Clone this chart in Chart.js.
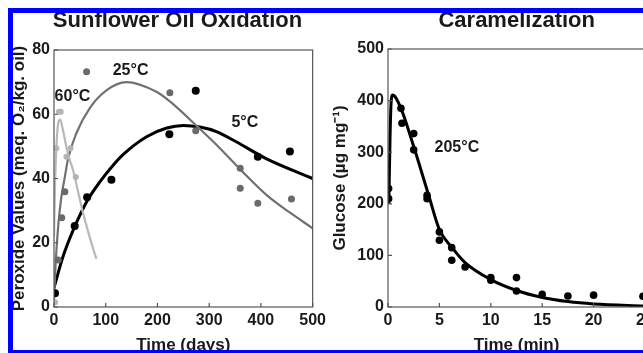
<!DOCTYPE html>
<html>
<head>
<meta charset="utf-8">
<script src="https://cdn.jsdelivr.net/npm/chart.js@4.4.0/dist/chart.umd.min.js"></script>
<style>
  html, body { margin: 0; padding: 0; background: #fff; overflow: hidden; width: 643px; height: 353px; }
  .panel { position: absolute; top: 0; width: 330px; height: 360px; }
  #left-panel { left: 0; }
  #right-panel { left: 330px; }
  .bar { position: absolute; background: #0000ff; }
</style>
</head>
<body>
<div class="panel" id="left-panel"><canvas id="oilChart"></canvas></div>
<div class="panel" id="right-panel"><canvas id="caramelChart"></canvas></div>
<div class="bar" style="left:8px; top:8px; width:5px; height:345px;"></div>
<div class="bar" style="left:8px; top:8px; width:635px; height:5px;"></div>
<div class="bar" style="left:8px; top:350px; width:635px; height:3px;"></div>
<script>
// Sunflower oil oxidation - fitted curves
const curve5Days  = [0, 17, 40, 64, 89, 111, 134, 179, 218, 250, 282, 314, 346, 410, 500];
const curve5Pv    = [6, 15.5, 25, 33, 39, 43.5, 47.5, 53, 55.7, 56.5, 56, 54.6, 52, 46.2, 40];
const curve25Days = [0, 3, 8, 14, 21, 27, 43, 69.5, 102, 140, 198, 224, 275, 314, 359, 410, 455, 500];
const curve25Pv   = [2, 13, 25, 34, 40.5, 46, 54, 62, 67.5, 70, 67, 64, 56.5, 50.5, 43, 35, 29.5, 24.5];
const curve60Days = [0, 2, 5, 8, 12, 16, 20, 25, 30, 37, 45, 55, 65, 75, 82];
const curve60Pv   = [22, 38, 51, 57, 58.3, 56, 53, 49, 46, 42.5, 37, 30, 24, 18.5, 15];

// Sunflower oil oxidation - measured points
const pts5Days  = [2, 40, 64, 111, 223, 274, 394, 456];
const pts5Pv    = [4.3, 25.2, 34.2, 39.6, 53.8, 67.3, 46.8, 48.4];
const pts25Days = [8, 15, 21, 63, 224, 274, 360, 360, 394, 459];
const pts25Pv   = [14.6, 27.8, 35.9, 73.2, 66.7, 54.9, 43.2, 37, 32.3, 33.6];
const pts60Days = [2, 4.5, 9.5, 13, 24, 32, 42];
const pts60Pv   = [1.5, 49.4, 60.8, 60.8, 46.8, 49.4, 40.5];

// Caramelization at 205 °C
const glucCurveMin = [0.08, 0.2, 0.3, 0.45, 1.2, 2.5, 3.95, 5, 6.2, 7.5, 10, 12.5, 15, 17.5, 20, 25];
const glucCurveVal = [200, 330, 395, 411, 388, 311, 217, 150, 116, 86, 53, 32, 18.5, 10.5, 6, 2];
const glucPtsMin = [0.06, 0.06, 1.26, 1.36, 2.5, 2.5, 3.8, 3.8, 5, 5, 6.2, 6.2, 7.5, 10, 10, 12.5, 12.5, 15, 17.5, 20, 24.8];
const glucPtsVal = [229.7, 210, 385, 356, 336, 304.6, 216.7, 210, 145.5, 129.4, 115, 90.6, 77.6, 57, 52, 57, 31, 24.6, 21.4, 23, 20.8];

// temperature labels (data coordinates)
const oilLabels = [
  { text: '60\u00b0C', x: 35.7, y: 65.5 },
  { text: '25\u00b0C', x: 148, y: 73.5 },
  { text: '5\u00b0C', x: 369, y: 57.3 }
];
const caramelLabels = [{ text: '205\u00b0C', x: 6.7, y: 308 }];

const FONT = '"Liberation Sans", Arial, Helvetica, sans-serif';
Chart.defaults.font.family = FONT;
Chart.defaults.color = '#1a1a1a';
Chart.defaults.animation = false;

const xy = (xs, ys) => xs.map((x, i) => ({ x: x, y: ys[i] }));

// box, inward ticks, panel title and temperature labels
const framePlugin = {
  id: 'frame',
  afterDatasetsDraw(chart, args, opts) {
    const { ctx, chartArea: a, scales } = chart;
    const x = scales.x, y = scales.y;
    ctx.save();
    ctx.strokeStyle = '#555';
    ctx.lineWidth = 1.2;
    ctx.strokeRect(a.left, a.top, a.right - a.left, a.bottom - a.top);
    ctx.beginPath();
    x.ticks.forEach(t => {
      const px = x.getPixelForValue(t.value);
      ctx.moveTo(px, a.bottom);
      ctx.lineTo(px, a.bottom - 4);
    });
    y.ticks.forEach(t => {
      const py = y.getPixelForValue(t.value);
      ctx.moveTo(a.left, py);
      ctx.lineTo(a.left + 4, py);
    });
    ctx.stroke();

    ctx.fillStyle = '#1a1a1a';
    ctx.textAlign = 'center';
    ctx.textBaseline = 'alphabetic';
    ctx.font = 'bold 22px ' + FONT;
    ctx.fillText(opts.title, opts.titleX, 26.5);

    ctx.font = 'bold 16px ' + FONT;
    ctx.textBaseline = 'middle';
    opts.labels.forEach(l => {
      ctx.fillText(l.text, x.getPixelForValue(l.x), y.getPixelForValue(l.y));
    });
    ctx.restore();
  }
};

function axis(min, max, step, title, fixSize, horizontal) {
  return {
    type: 'linear',
    min: min,
    max: max,
    ticks: { stepSize: step, padding: 4, font: { size: 16, weight: 'bold' }, color: '#1a1a1a' },
    grid: { display: false, drawTicks: false },
    border: { display: false },
    title: {
      display: true,
      text: title,
      font: { size: 17, weight: 'bold' },
      color: '#1a1a1a',
      padding: horizontal ? { top: 0, bottom: 4 } : { top: 0, bottom: 0 }
    },
    afterFit: s => { if (horizontal) s.height = fixSize; else s.width = fixSize; }
  };
}

function curve(xs, ys, color, width) {
  return {
    type: 'scatter', data: xy(xs, ys), showLine: true, pointRadius: 0,
    borderColor: color, borderWidth: width, cubicInterpolationMode: 'monotone', fill: false
  };
}

function dots(xs, ys, color, r) {
  return {
    type: 'scatter', data: xy(xs, ys), showLine: false, pointRadius: r,
    pointBackgroundColor: color, pointBorderColor: color, pointBorderWidth: 0
  };
}

new Chart(document.getElementById('oilChart'), {
  type: 'scatter',
  data: {
    datasets: [
      dots(pts60Days, pts60Pv, '#b4b4b4', 3),
      dots(pts25Days, pts25Pv, '#6a6a6a', 3.5),
      dots(pts5Days, pts5Pv, '#000', 4),
      curve(curve60Days, curve60Pv, '#b8b8b8', 2.2),
      curve(curve25Days, curve25Pv, '#717171', 2.2),
      curve(curve5Days, curve5Pv, '#000', 3)
    ]
  },
  options: {
    responsive: true,
    maintainAspectRatio: false,
    layout: { padding: { left: 9, top: 50, right: 17, bottom: 0 } },
    plugins: {
      legend: { display: false },
      tooltip: { enabled: false },
      frame: { title: 'Sunflower Oil Oxidation', titleX: 177.5, labels: oilLabels }
    },
    scales: {
      x: axis(0, 500, 100, 'Time (days)', 53, true),
      y: axis(0, 80, 20, 'Peroxide Values (meq. O\u2082/kg. oil)', 45, false)
    }
  },
  plugins: [framePlugin]
});

new Chart(document.getElementById('caramelChart'), {
  type: 'scatter',
  data: {
    datasets: [
      dots(glucPtsMin, glucPtsVal, '#000', 3.8),
      curve(glucCurveMin, glucCurveVal, '#000', 3)
    ]
  },
  options: {
    responsive: true,
    maintainAspectRatio: false,
    layout: { padding: { left: 0, top: 49, right: 15, bottom: 0 } },
    plugins: {
      legend: { display: false },
      tooltip: { enabled: false },
      frame: { title: 'Caramelization', titleX: 186.7, labels: caramelLabels }
    },
    scales: {
      x: axis(0, 25, 5, 'Time (min)', 53, true),
      y: axis(0, 500, 100, 'Glucose (\u00b5g mg\u207b\u00b9)', 58, false)
    }
  },
  plugins: [framePlugin]
});
</script>
</body>
</html>
